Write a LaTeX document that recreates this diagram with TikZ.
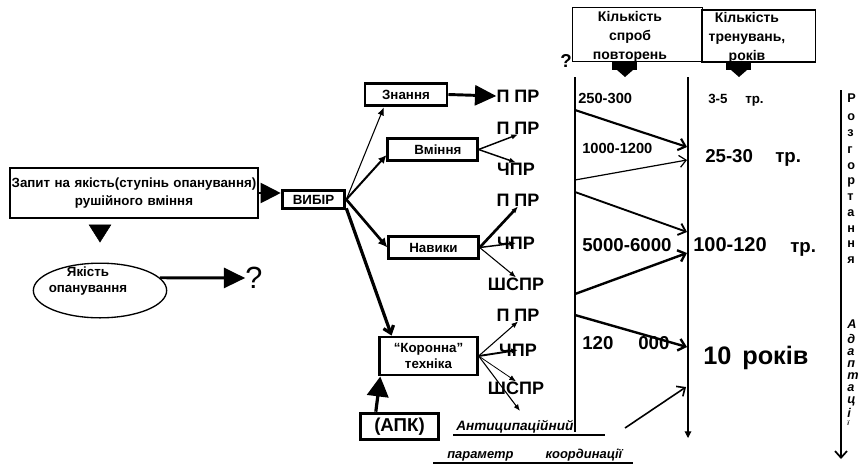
\documentclass[tikz,border=0pt]{standalone}
\usepackage{fontspec}
\setmainfont{Liberation Sans}
\usetikzlibrary{arrows.meta,shapes.geometric}
\newcommand{\thickw}{2.2pt}
\newcommand{\thinw}{0.8pt}
\newcommand{\blockdown}[1]{\fill (#1-13,62) rectangle (#1+12,70); \fill (#1-8,70) -- (#1+8,70) -- (#1,77) -- cycle;}
\tikzset{
  box/.style={draw, line width=\thickw, font=\bfseries\fontsize{10}{13}\selectfont, align=center, inner sep=0pt},
  hbox/.style={draw, line width=\thinw, inner sep=0pt},
  boxtext/.style={font=\bfseries\fontsize{10.5}{14}\selectfont, align=center, inner sep=0pt},
  plr/.style={font=\bfseries\fontsize{13.5}{15}\selectfont, inner sep=0pt},
  smallnum/.style={font=\bfseries\fontsize{11}{12}\selectfont, inner sep=0pt, anchor=west},
  bignum/.style={font=\bfseries\fontsize{14}{16}\selectfont, inner sep=0pt, anchor=west},
  hugenum/.style={font=\bfseries\fontsize{19}{20}\selectfont, inner sep=0pt, anchor=west},
  vletter/.style={font=\bfseries\fontsize{9.5}{10}\selectfont, inner sep=0pt, anchor=west},
  iletter/.style={font=\bfseries\itshape\fontsize{9.5}{10}\selectfont, inner sep=0pt, anchor=west},
  bigtip/.style={line width=\thickw, -{Triangle[length=16pt,width=15pt]}},
  tip/.style={-{Latex[length=5pt,width=4pt]}},
  barb/.style={-{Straight Barb[length=5pt,width=9pt]}},
}

\begin{document}
\begin{tikzpicture}[x=0.75pt,y=-0.75pt]
    %\draw[help lines] (0,0) grid (864,465);
    \useasboundingbox (0,0) rectangle (864,465);
    % left part
    \node[box, minimum width=186pt, minimum height=37.5pt, text width=186pt] (zap) at (134,193)
        {Запит на якість(ступінь опанування)\\рушійного вміння};
    \node[draw, ellipse, line width=1pt, minimum width=100pt, minimum height=41pt, inner sep=0pt] (qual) at (100,290.5) {};
    \node[boxtext, font=\bfseries\fontsize{10}{11.5}\selectfont] (qualtxt) at (88,281) {Якість\\опанування};
    \node[font=\fontsize{23}{24}\selectfont, inner sep=0pt] (q1) at (254,278) {?};
    \node[box, minimum width=47pt, minimum height=14pt] (vyb) at (313.5,199.5) {ВИБІР};
    \node[box, minimum width=61.5pt, minimum height=17pt] (zn) at (406,94.5) {Знання};
    \node[box, minimum width=67pt, minimum height=17pt] (vm) at (432.5,149.5) {\hspace{8pt}Вміння};
    \node[box, minimum width=67pt, minimum height=16pt] (nav) at (433.5,247.5) {Навики};
    \node[box, minimum width=73pt, minimum height=28.5pt, font=\bfseries\fontsize{10}{12.5}\selectfont] (kor) at (428.5,356)
        {“Коронна”\\техніка};
    \node[box, minimum width=59pt, minimum height=20pt, font=\bfseries\fontsize{14}{16}\selectfont] (apk) at (399.5,426.5) {(АПК)};

    \node[plr] (p1) at (518,96) {П ПР};
    \node[plr] (p2) at (518,128) {П ПР};
    \node[plr] (c2) at (516,169) {ЧПР};
    \node[plr] (p3) at (518,200) {П ПР};
    \node[plr] (c3) at (516,243) {ЧПР};
    \node[plr] (s3) at (516,284) {ШСПР};
    \node[plr] (p4) at (518,315) {П ПР};
    \node[plr] (c4) at (518,350) {ЧПР};
    \node[plr] (s4) at (516,388) {ШСПР};
    \coordinate (k4) at (520,411);

    \draw[line width=1.5pt, -{Triangle[length=15pt,width=15pt]}] (zap.east) -- (zap.east -| vyb.west);
    \draw[line width=0.4pt, -{Triangle[length=13.5pt,width=17pt]}, shorten <=5pt, shorten >=15pt] (zap.south -| qual) -- (qual.north);
    \draw[bigtip] (qual.12) -- (q1.west);
    \draw[bigtip] (zn.east) -- (p1.west);

    \draw[line width=0.8pt, -{Latex[length=6pt,width=5pt]}] (vyb.east) -- (zn.210);
    \draw[line width=1.5pt, -{Latex[length=6pt,width=6pt]}] (vyb.east) -- (vm.187);
    \draw[line width=2pt, -{Latex[length=7pt,width=7pt]}] (vyb.east) -- (nav.west);
    \draw[line width=2.4pt, -{Straight Barb[length=5pt,width=8pt]}] (vyb.-15) -- (kor.151);
    \draw[line width=2.4pt, -{Triangle[length=15pt,width=16pt]}] (apk.148) -- (kor.203);

    \draw[line width=1.1pt, tip] (vm.east) -- (p2.south);
    \draw[line width=1.1pt, tip] (vm.east) -- (c2.north);
    \draw[line width=2pt, tip] (nav.east) -- (p3.south);
    \draw[line width=1.1pt, tip] (nav.east) -- (c3.center);
    \draw[line width=0.8pt, tip] (nav.east) -- (s3.north);
    \draw[line width=0.8pt, tip] (kor.east) -- (p4.south);
    \draw[line width=1.4pt, tip] (kor.east) -- (c4.center);
    \draw[line width=0.6pt, tip] (kor.east) -- (s4.north);
    \draw[line width=0.8pt, tip] (kor.east) -- (k4);

    \node[font=\bfseries\itshape\fontsize{10.2}{12}\selectfont, inner sep=0pt, anchor=west] (anti) at (456,427) {Антиципаційний};
    \draw[line width=1pt] (453,435) -- (605,435);
    \node[font=\bfseries\itshape\fontsize{9.7}{12}\selectfont, inner sep=0pt, anchor=west] (param) at (447,455) {параметр\hspace{24pt}координації};
    \draw[line width=1pt] (433,463) -- (633,463);

    % right part
    \node[hbox, minimum width=97pt, minimum height=41pt] (try) at (637.5,34.5) {};
    \node[boxtext] (trytxt) at (630,37) {Кількість\\спроб\\повторень};
    \node[hbox, minimum width=85pt, minimum height=39pt] (trn) at (758.5,36) {};
    \node[boxtext] (trntxt) at (747,38) {Кількість\\тренувань,\\років};
    \node[font=\bfseries\fontsize{14}{14}\selectfont, inner sep=0pt] (q2) at (566,61) {?};
    \blockdown{625}
    \blockdown{739}

    \coordinate (lt) at (575,77);
    \coordinate (lb) at (575,432);
    \coordinate (rt) at (688,77);
    \coordinate (rb) at (688,438);
    \draw[line width=\thickw] (lt) -- (lb);
    \draw[line width=\thinw, -{Triangle[length=5pt,width=5pt]}] (rt) -- (rb);
    \coordinate (ft) at (841,90);
    \coordinate (fb) at (841,459);
    \draw[line width=1.3pt, barb] (ft) -- (fb);

    \coordinate (l1) at (575,110); \coordinate (r1) at (687,147);
    \coordinate (l2) at (575,180); \coordinate (r2) at (687,160);
    \coordinate (l3) at (575,192); \coordinate (r3) at (687,232);
    \coordinate (l4) at (575,294); \coordinate (r4) at (687,253);
    \coordinate (l5) at (575,315); \coordinate (r5) at (687,347);
    \coordinate (l6) at (625,428); \coordinate (r6) at (686,387);
    \draw[line width=1.6pt, barb] (l1) -- (r1);
    \draw[line width=0.9pt, barb] (l2) -- (r2);
    \draw[line width=1.4pt, barb] (l3) -- (r3);
    \draw[line width=1.8pt, barb] (l4) -- (r4);
    \draw[line width=1.8pt, barb] (l5) -- (r5);
    \draw[line width=1.2pt, barb] (l6) -- (r6);

    \node[smallnum] (n1) at (578,98) {250-300};
    \node[smallnum, font=\bfseries\fontsize{10}{12}\selectfont] (t1) at (708,99) {3-5};
    \node[smallnum, font=\bfseries\fontsize{10}{12}\selectfont] (t1u) at (745,101) {тр.};
    \node[smallnum] (n2) at (582,148) {1000-1200};
    \node[bignum] (t2) at (705,156) {25-30};
    \node[bignum] (t2u) at (775,159) {тр.};
    \node[bignum] (n3) at (582,245) {5000-6000};
    \node[bignum, font=\bfseries\fontsize{15}{16}\selectfont] (t3) at (693,245) {100-120};
    \node[bignum] (t3u) at (790,249) {тр.};
    \node[bignum] (n4a) at (582,343) {120};
    \node[bignum] (n4b) at (638,343) {000};
    \node[hugenum] (t4) at (703,356) {10};
    \node[hugenum] (t4u) at (742,358) {років};

    \foreach \ch/\yy in {Р/98,о/117,з/133,г/150,о/166,р/182,т/197,а/213,н/229,н/244,я/260}
        \node[vletter, name=rz\yy] at (847,\yy) {\ch};
    \foreach \ch/\yy in {А/324,д/339,а/352,п/364,т/376,а/388,ц/401,і/413}
        \node[iletter, name=ad\yy] at (847,\yy) {\ch};
    \node[iletter, font=\bfseries\itshape\fontsize{5}{5}\selectfont] (ad423) at (847,423) {ї};
\end{tikzpicture}
\end{document}
